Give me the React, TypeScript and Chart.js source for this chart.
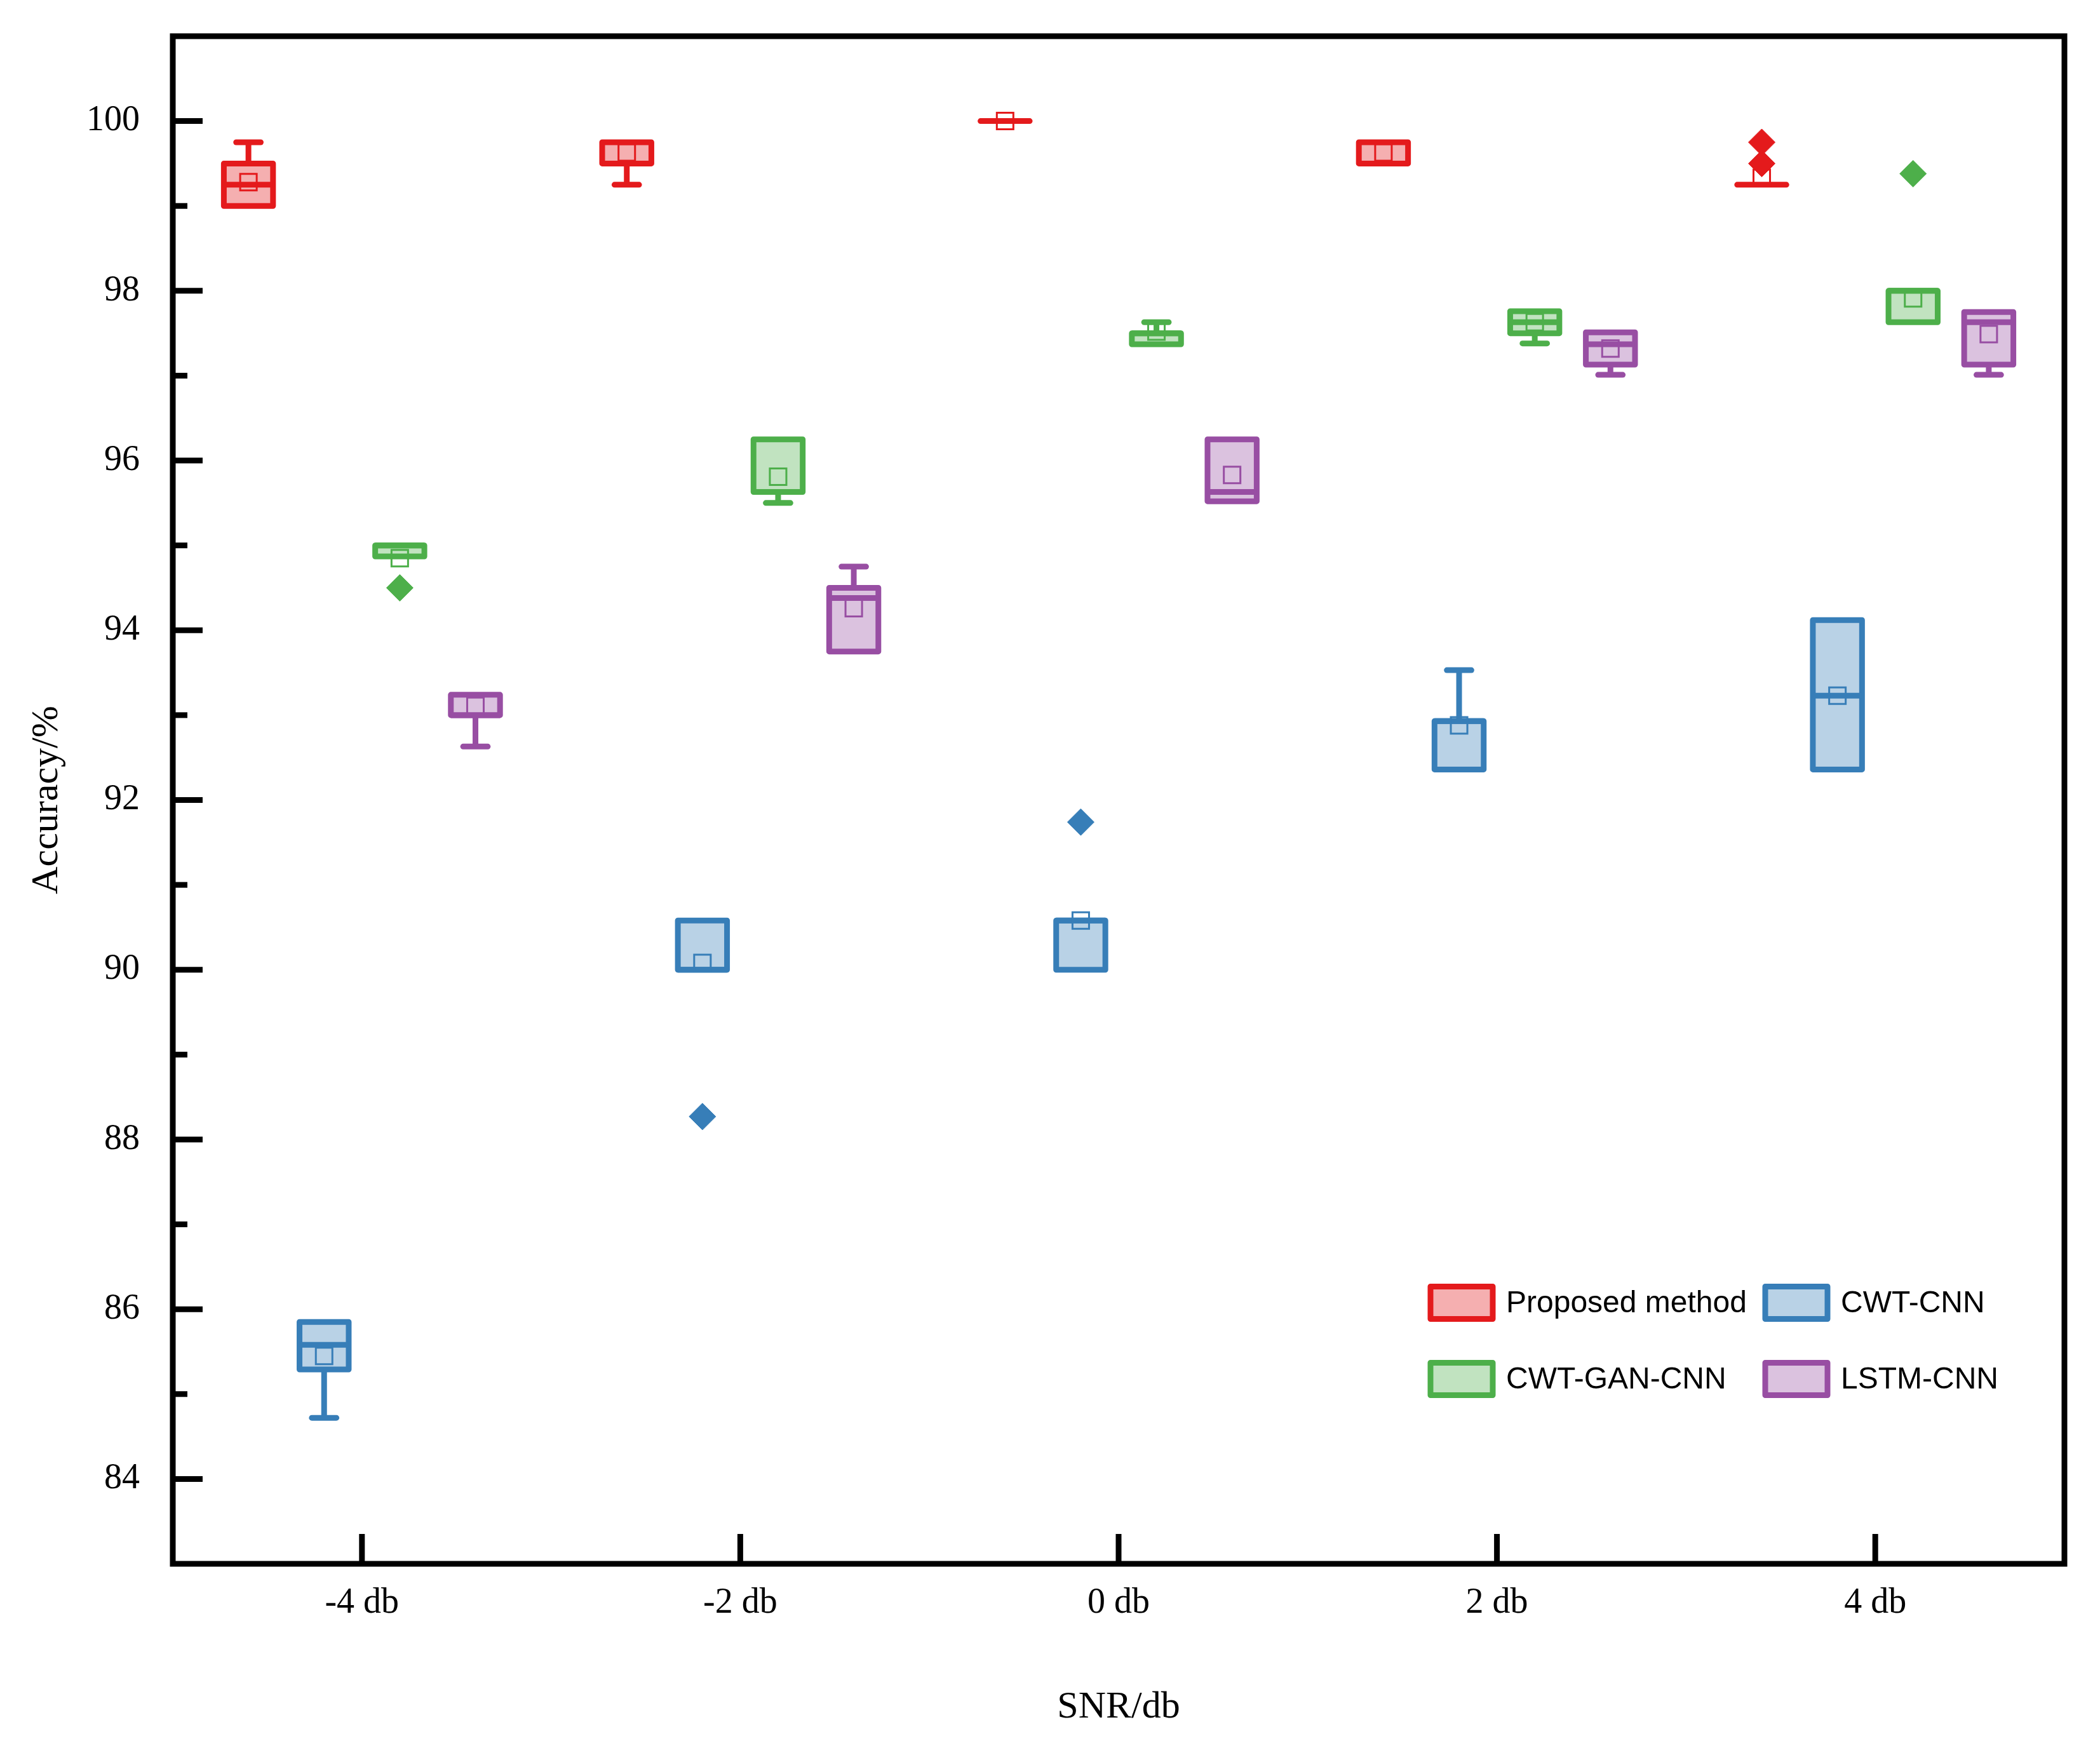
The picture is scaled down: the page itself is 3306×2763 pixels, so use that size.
import React, { useEffect, useRef } from 'react';
import { Chart, registerables } from 'chart.js';

Chart.register(...registerables);

// ---------- data ----------
const snrLabels = ['-4 db', '-2 db', '0 db', '2 db', '4 db'];
const snrValues = [-4, -2, 0, 2, 4];
const yTickValues = [84, 86, 88, 90, 92, 94, 96, 98, 100];
const yMinorTickValues = [85, 87, 89, 91, 93, 95, 97, 99];

const seriesNames = ['Proposed method', 'CWT-CNN', 'CWT-GAN-CNN', 'LSTM-CNN'];
const seriesColors = ['#E41A1C', '#377EB8', '#4DAF4A', '#984EA3'];
const seriesFills = ['#F5AFB0', '#B9D2E6', '#C1E3C0', '#DBC2DF'];

// Proposed method
const proposedMin = [99.0, 99.25, 100, 99.5, 99.25];
const proposedQ1 = [99.0, 99.5, 100, 99.5, 99.25];
const proposedMedian = [99.25, 99.5, 100, 99.5, 99.25];
const proposedQ3 = [99.5, 99.75, 100, 99.75, 99.25];
const proposedMax = [99.75, 99.75, 100, 99.75, 99.25];
const proposedMean = [99.28, 99.63, 100, 99.63, 99.33];
const proposedOutliers = [[], [], [], [], [99.5, 99.75]];

// CWT-CNN
const cwtMin = [84.72, 90.0, 90.0, 92.36, 92.36];
const cwtQ1 = [85.29, 90.0, 90.0, 92.36, 92.36];
const cwtMedian = [85.58, 90.0, 90.58, 92.93, 93.23];
const cwtQ3 = [85.85, 90.58, 90.58, 92.93, 94.12];
const cwtMax = [85.85, 90.58, 90.58, 93.53, 94.12];
const cwtMean = [85.45, 90.08, 90.58, 92.88, 93.23];
const cwtOutliers = [[], [88.27], [91.74], [], []];

// CWT-GAN-CNN
const ganMin = [94.87, 95.5, 97.37, 97.38, 97.63];
const ganQ1 = [94.87, 95.63, 97.37, 97.5, 97.63];
const ganMedian = [95.0, 95.63, 97.5, 97.63, 98.0];
const ganQ3 = [95.0, 96.25, 97.5, 97.76, 98.0];
const ganMax = [95.0, 96.25, 97.63, 97.76, 98.0];
const ganMean = [94.85, 95.81, 97.52, 97.63, 97.91];
const ganOutliers = [[94.5], [], [], [], [99.38]];

// LSTM-CNN
const lstmMin = [92.63, 93.75, 95.52, 97.01, 97.01];
const lstmQ1 = [93.0, 93.75, 95.52, 97.13, 97.13];
const lstmMedian = [93.0, 94.38, 95.63, 97.37, 97.63];
const lstmQ3 = [93.24, 94.5, 96.25, 97.51, 97.75];
const lstmMax = [93.24, 94.75, 96.25, 97.51, 97.75];
const lstmMean = [93.11, 94.26, 95.83, 97.32, 97.49];
const lstmOutliers = [[], [], [], [], []];

const boxSeries = [
  { min: proposedMin, q1: proposedQ1, median: proposedMedian, q3: proposedQ3, max: proposedMax, mean: proposedMean, outliers: proposedOutliers },
  { min: cwtMin, q1: cwtQ1, median: cwtMedian, q3: cwtQ3, max: cwtMax, mean: cwtMean, outliers: cwtOutliers },
  { min: ganMin, q1: ganQ1, median: ganMedian, q3: ganQ3, max: ganMax, mean: ganMean, outliers: ganOutliers },
  { min: lstmMin, q1: lstmQ1, median: lstmMedian, q3: lstmQ3, max: lstmMax, mean: lstmMean, outliers: lstmOutliers },
];

// ---------- layout constants ----------
const W = 3306;
const H = 2763;
const groupOffsets = [-0.6, -0.2, 0.2, 0.6];
const BOX_W = 0.26;
const CAP_W = 0.13;
const LINE_W = 9;
const SERIF = "'Liberation Serif', 'Times New Roman', serif";
const SANS = "'Liberation Sans', Arial, sans-serif";

const boxPlugin = {
  id: 'boxPlot',
  beforeDatasetsDraw(chart: any) {
    const { ctx, scales } = chart;
    const x = scales.x;
    const y = scales.y;
    const unit = x.getPixelForValue(1) - x.getPixelForValue(0);
    const halfBox = (BOX_W * unit) / 2;
    const halfCap = (CAP_W * unit) / 2;
    ctx.save();
    boxSeries.forEach((s, si) => {
      const color = seriesColors[si];
      const fill = seriesFills[si];
      snrValues.forEach((v, i) => {
        const cx = x.getPixelForValue(v + groupOffsets[si]);
        const yMin = y.getPixelForValue(s.min[i]);
        const yQ1 = y.getPixelForValue(s.q1[i]);
        const yMed = y.getPixelForValue(s.median[i]);
        const yQ3 = y.getPixelForValue(s.q3[i]);
        const yMax = y.getPixelForValue(s.max[i]);
        ctx.strokeStyle = color;
        ctx.lineWidth = LINE_W;
        ctx.lineCap = 'butt';
        if (s.max[i] > s.q3[i]) {
          ctx.beginPath();
          ctx.moveTo(cx, yQ3);
          ctx.lineTo(cx, yMax);
          ctx.stroke();
          ctx.lineCap = 'round';
          ctx.beginPath();
          ctx.moveTo(cx - halfCap, yMax);
          ctx.lineTo(cx + halfCap, yMax);
          ctx.stroke();
          ctx.lineCap = 'butt';
        }
        if (s.min[i] < s.q1[i]) {
          ctx.beginPath();
          ctx.moveTo(cx, yQ1);
          ctx.lineTo(cx, yMin);
          ctx.stroke();
          ctx.lineCap = 'round';
          ctx.beginPath();
          ctx.moveTo(cx - halfCap, yMin);
          ctx.lineTo(cx + halfCap, yMin);
          ctx.stroke();
          ctx.lineCap = 'butt';
        }
        if (Math.abs(yQ1 - yQ3) < 1) {
          ctx.lineCap = 'round';
          ctx.beginPath();
          ctx.moveTo(cx - halfBox, yQ3);
          ctx.lineTo(cx + halfBox, yQ3);
          ctx.stroke();
          ctx.lineCap = 'butt';
        } else {
          ctx.fillStyle = fill;
          ctx.fillRect(cx - halfBox, yQ3, 2 * halfBox, yQ1 - yQ3);
          ctx.lineJoin = 'round';
          ctx.strokeRect(cx - halfBox, yQ3, 2 * halfBox, yQ1 - yQ3);
          ctx.beginPath();
          ctx.moveTo(cx - halfBox, yMed);
          ctx.lineTo(cx + halfBox, yMed);
          ctx.stroke();
        }
      });
    });
    ctx.restore();
  },
  afterDraw(chart: any) {
    const { ctx, chartArea, scales } = chart;
    const { left, right, top, bottom } = chartArea;
    const x = scales.x;
    const y = scales.y;
    ctx.save();
    ctx.strokeStyle = '#000';
    ctx.lineWidth = LINE_W;
    ctx.lineCap = 'butt';
    yTickValues.forEach((v) => {
      const py = y.getPixelForValue(v);
      ctx.beginPath();
      ctx.moveTo(left, py);
      ctx.lineTo(left + 47, py);
      ctx.stroke();
    });
    yMinorTickValues.forEach((v) => {
      const py = y.getPixelForValue(v);
      ctx.beginPath();
      ctx.moveTo(left, py);
      ctx.lineTo(left + 23, py);
      ctx.stroke();
    });
    snrValues.forEach((v) => {
      const px = x.getPixelForValue(v);
      ctx.beginPath();
      ctx.moveTo(px, bottom);
      ctx.lineTo(px, bottom - 47);
      ctx.stroke();
    });
    ctx.lineJoin = 'miter';
    ctx.strokeRect(left, top, right - left, bottom - top);

    // legend
    const colX = [left + 1980, left + 2507];
    const rowY = [top + 1994, top + 2114];
    const swW = 98;
    const swH = 51;
    ctx.font = `48px ${SANS}`;
    ctx.textBaseline = 'middle';
    ctx.textAlign = 'left';
    seriesNames.forEach((name, si) => {
      const cxl = colX[si % 2];
      const cy = rowY[Math.floor(si / 2)];
      ctx.fillStyle = seriesFills[si];
      ctx.fillRect(cxl, cy - swH / 2, swW, swH);
      ctx.strokeStyle = seriesColors[si];
      ctx.lineJoin = 'round';
      ctx.strokeRect(cxl, cy - swH / 2, swW, swH);
      ctx.fillStyle = '#000';
      ctx.fillText(name, cxl + swW + 21, cy + 2);
    });
    ctx.restore();
  },
};

const buildDatasets = () => {
  const ds: any[] = [];
  boxSeries.forEach((s, si) => {
    ds.push({
      label: seriesNames[si] + ' mean',
      data: snrValues.map((v, i) => ({ x: v + groupOffsets[si], y: s.mean[i] })),
      pointStyle: 'rect',
      pointRadius: 18.4,
      pointBorderWidth: 3,
      pointBackgroundColor: 'rgba(0,0,0,0)',
      pointBorderColor: seriesColors[si],
      showLine: false,
    });
    const out: any[] = [];
    snrValues.forEach((v, i) => {
      s.outliers[i].forEach((o: number) => out.push({ x: v + groupOffsets[si], y: o }));
    });
    ds.push({
      label: seriesNames[si] + ' outliers',
      data: out,
      pointStyle: 'rectRot',
      pointRadius: 21,
      pointBorderWidth: 1,
      pointBackgroundColor: seriesColors[si],
      pointBorderColor: seriesColors[si],
      showLine: false,
    });
  });
  return ds;
};

export default function App() {
  const canvasRef = useRef<HTMLCanvasElement | null>(null);

  useEffect(() => {
    const canvas = canvasRef.current;
    if (!canvas) return;
    const chart = new Chart(canvas, {
      type: 'scatter',
      data: { datasets: buildDatasets() },
      options: {
        responsive: false,
        animation: false,
        devicePixelRatio: 1,
        events: [],
        layout: { padding: { top: 57, right: 56, left: 0, bottom: 0 } },
        plugins: {
          legend: { display: false },
          tooltip: { enabled: false },
          title: { display: false },
        },
        scales: {
          x: {
            type: 'linear',
            min: -5,
            max: 5,
            afterBuildTicks: (scale: any) => {
              scale.ticks = snrValues.map((v) => ({ value: v }));
            },
            afterFit: (scale: any) => {
              scale.height = 301;
              scale.paddingLeft = 0;
              scale.paddingRight = 0;
            },
            grid: { display: false, drawTicks: false },
            border: { display: false },
            ticks: {
              autoSkip: false,
              maxRotation: 0,
              padding: 29,
              color: '#000',
              font: { family: SERIF, size: 56 },
              callback: (_v: any, index: number) => snrLabels[index],
            },
            title: {
              display: true,
              text: 'SNR/db',
              color: '#000',
              font: { family: SERIF, size: 60 },
              padding: { top: 0, bottom: 39 },
            },
          },
          y: {
            type: 'linear',
            min: 83,
            max: 101,
            afterBuildTicks: (scale: any) => {
              scale.ticks = yTickValues.map((v) => ({ value: v }));
            },
            afterFit: (scale: any) => {
              scale.width = 272;
              scale.paddingTop = 0;
              scale.paddingBottom = 0;
            },
            grid: { display: false, drawTicks: false },
            border: { display: false },
            ticks: {
              autoSkip: false,
              padding: 52,
              color: '#000',
              font: { family: SERIF, size: 56 },
              callback: (v: any) => String(v),
            },
            title: {
              display: true,
              text: 'Accuracy/%',
              color: '#000',
              font: { family: SERIF, size: 60 },
              padding: { top: 38, bottom: 0 },
            },
          },
        },
      },
      plugins: [boxPlugin],
    } as any);
    return () => chart.destroy();
  }, []);

  return (
    <div style={{ position: 'absolute', left: 0, top: 0, width: W, height: H, background: '#fff' }}>
      <canvas ref={canvasRef} width={W} height={H} style={{ width: W, height: H, display: 'block' }} />
    </div>
  );
}
